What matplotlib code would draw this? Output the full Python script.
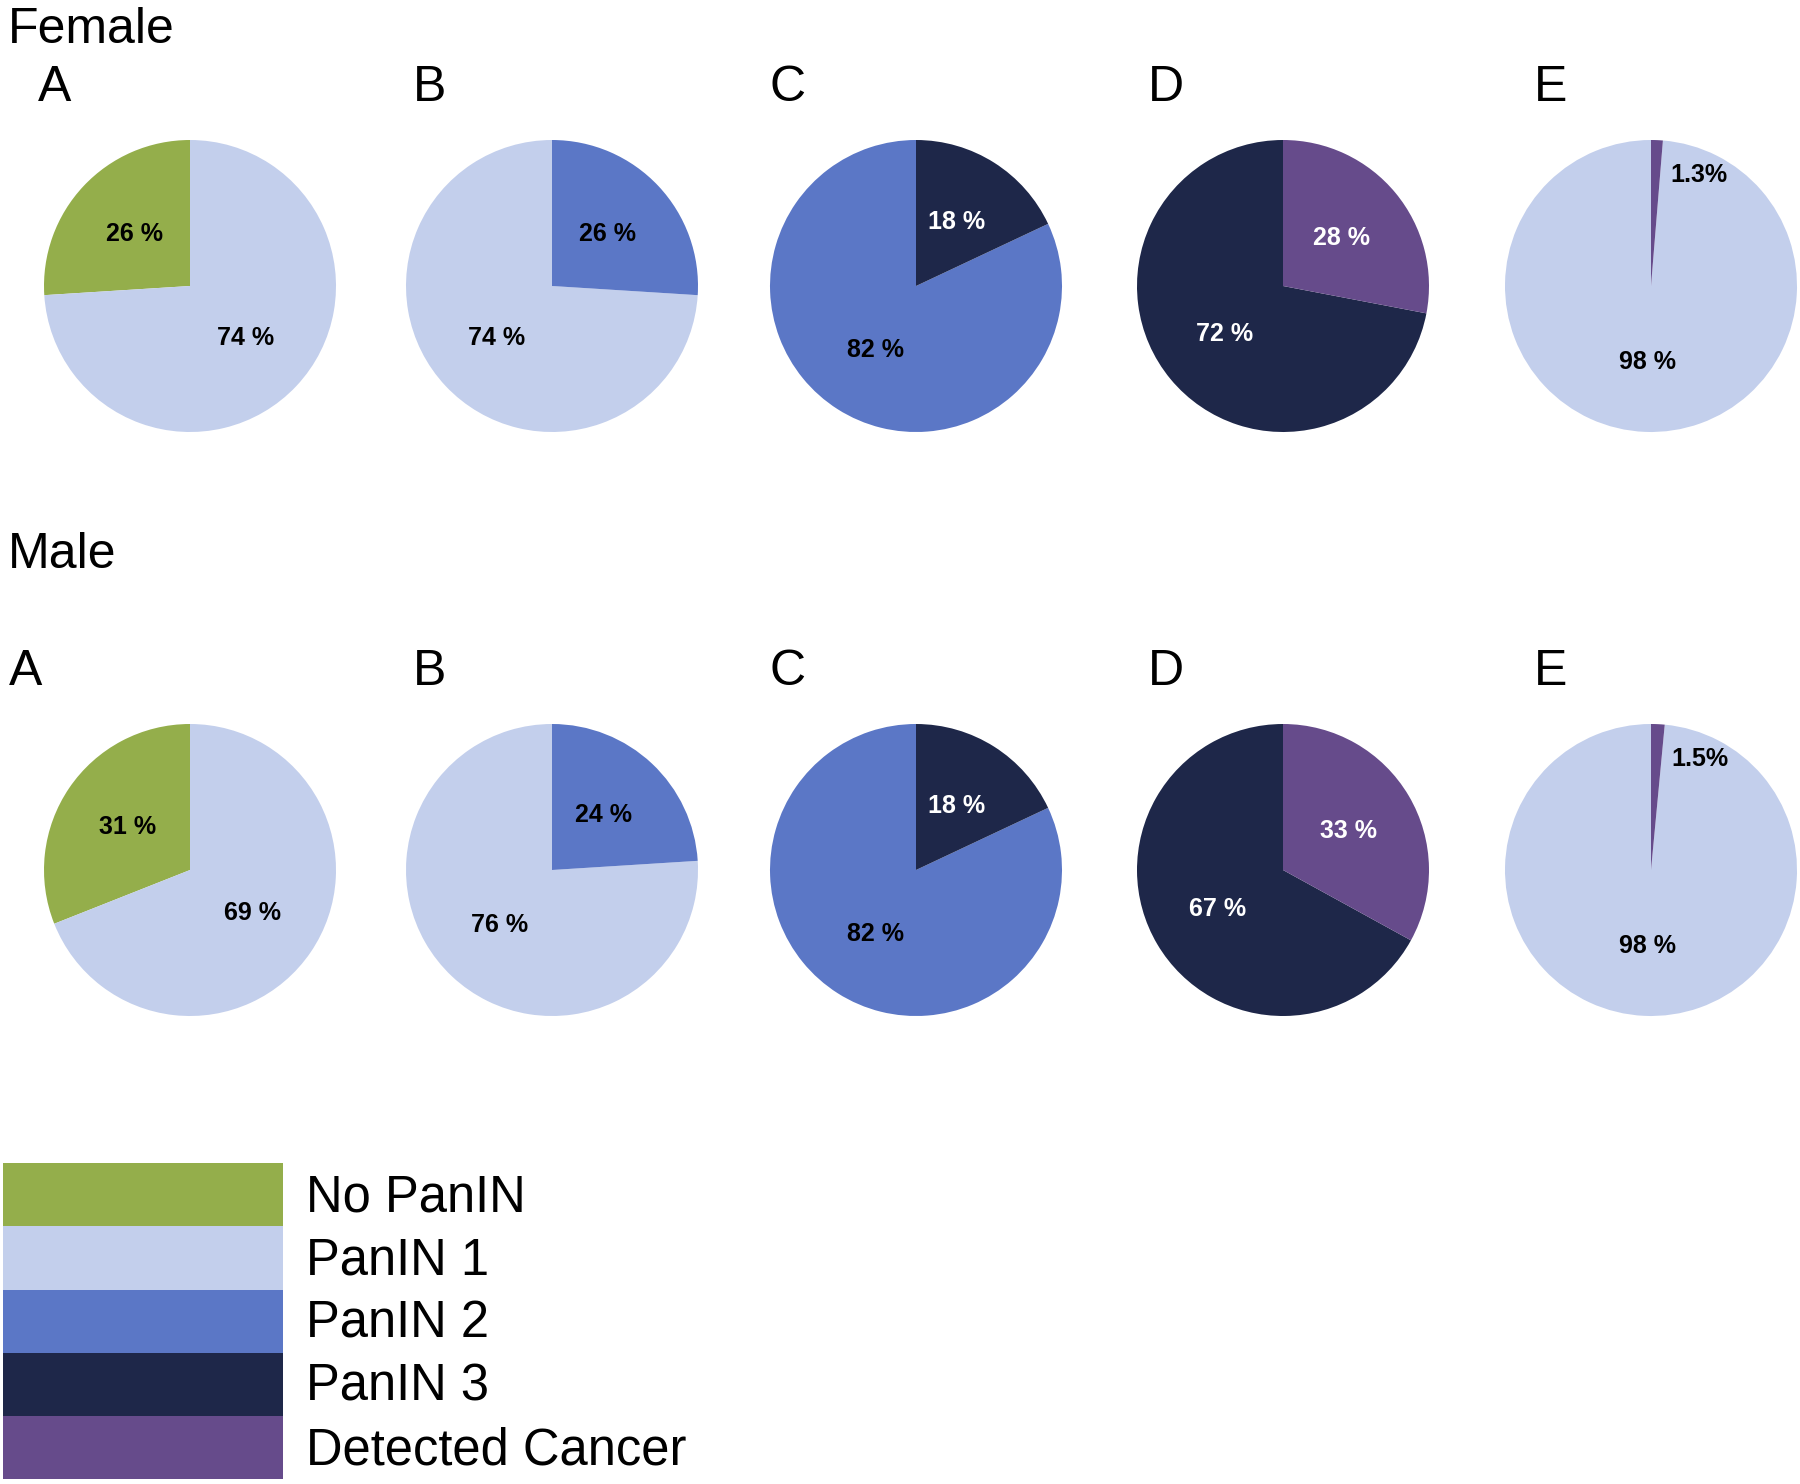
import numpy as np
import matplotlib
matplotlib.use("Agg")
import matplotlib.pyplot as plt
from matplotlib.patches import Patch

plt.rcParams['font.family'] = ['Liberation Sans', 'DejaVu Sans']

categories = ["No PanIN", "PanIN 1", "PanIN 2", "PanIN 3", "Detected Cancer"]
colors = ["#94AE4B", "#C3CFEC", "#5B77C6", "#1E2749", "#664B8B"]
text_colors = ["black", "black", "black", "white", "white"]

panels = ["A", "B", "C", "D", "E"]
# category index of the two slices in each panel
panel_cats = [[0, 1], [1, 2], [2, 3], [3, 4], [1, 4]]

female_values = [[26, 74], [74, 26], [82, 18], [72, 28], [98.7, 1.3]]
female_labels = [["26 %", "74 %"], ["74 %", "26 %"], ["82 %", "18 %"], ["72 %", "28 %"], ["98 %", "1.3%"]]
male_values = [[31, 69], [76, 24], [82, 18], [67, 33], [98.5, 1.5]]
male_labels = [["31 %", "69 %"], ["76 %", "24 %"], ["82 %", "18 %"], ["67 %", "33 %"], ["98 %", "1.5%"]]

W, H = 1800, 1484
fig = plt.figure(figsize=(W / 100, H / 100), dpi=100)

centers_x = [190, 552, 916, 1283, 1651]
radius = 146
pct_font = dict(family=['Liberation Sans Narrow', 'Liberation Sans'], fontweight='bold', fontsize=18)


def draw_row(values, labels, cy):
    for i in range(5):
        ax = fig.add_axes([(centers_x[i] - radius) / W, 1 - (cy + radius) / H,
                           2 * radius / W, 2 * radius / H])
        cats = panel_cats[i]
        wedges, _ = ax.pie(values[i], colors=[colors[c] for c in cats], startangle=90,
                           counterclock=True, radius=1, wedgeprops=dict(linewidth=0))
        total = sum(values[i])
        for k, (w, lab, c, v) in enumerate(zip(wedges, labels[i], cats, values[i])):
            mid = np.deg2rad((w.theta1 + w.theta2) / 2)
            if v / total < 0.05:
                # tiny slice: label sits beside it, on the other wedge
                other = cats[1 - k]
                ax.text(np.cos(mid) * 0.78 + 0.1, np.sin(mid) * 0.76, lab, ha='left', va='center',
                        color=text_colors[other], **pct_font)
            else:
                ax.text(np.cos(mid) * 0.52, np.sin(mid) * 0.52, lab, ha='center', va='center',
                        color=text_colors[c], **pct_font)
        ax.set_xlim(-1, 1)
        ax.set_ylim(-1, 1)
        ax.axis('off')


draw_row(female_values, female_labels, 286)
draw_row(male_values, male_labels, 870)

# titles and panel letters
fig.text(8 / W, 1 - 43 / H, "Female", fontsize=36, ha='left', va='baseline')
fig.text(8 / W, 1 - 568 / H, "Male", fontsize=36, ha='left', va='baseline')
female_letter_x = [38, 413, 770, 1148, 1534]
male_letter_x = [9, 413, 770, 1148, 1534]
for i, p in enumerate(panels):
    fig.text(female_letter_x[i] / W, 1 - 101 / H, p, fontsize=36, ha='left', va='baseline')
    fig.text(male_letter_x[i] / W, 1 - 685 / H, p, fontsize=36, ha='left', va='baseline')

handles = [Patch(facecolor=c, edgecolor='none') for c in colors]
fig.legend(handles, categories, loc='lower left', bbox_to_anchor=(3 / W, 5 / H),
           frameon=False, fontsize=36.5, handlelength=5.52, handleheight=1.54,
           labelspacing=0, handletextpad=0.45, borderpad=0, borderaxespad=0)

fig.savefig("out.png", dpi=100, facecolor='white')
